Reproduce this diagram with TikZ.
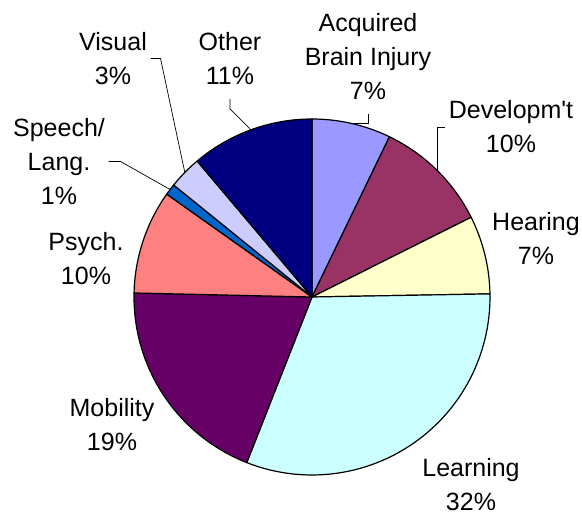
\documentclass[tikz,border=0pt]{standalone}
\usepackage{fontspec}
\setmainfont{Liberation Sans}
\definecolor{abicol}{HTML}{9999FF}
\definecolor{devcol}{HTML}{993366}
\definecolor{hearcol}{HTML}{FFFFCC}
\definecolor{learncol}{HTML}{CCFFFF}
\definecolor{mobcol}{HTML}{660066}
\definecolor{psychcol}{HTML}{FF8080}
\definecolor{speechcol}{HTML}{0066CC}
\definecolor{viscol}{HTML}{CCCCFF}
\definecolor{othercol}{HTML}{000080}
\begin{document}
\begin{tikzpicture}[x=1pt, y=1pt,
    slice/.style={draw=black, line width=1.2pt, line join=round},
    lbl/.style={align=center, inner sep=3.5pt, font=\fontsize{25}{34}\selectfont},
    hooklbl/.style={lbl, inner ysep=14pt},
    leader/.style={draw=black, line width=0.7pt}
  ]
    \useasboundingbox (0,0) rectangle (582,512);
    \coordinate (c) at (312,215);

    % slices, clockwise from the top
    \foreach \from/\to/\col in {90/64.2/abicol, 64.2/26.6/devcol, 26.6/1/hearcol,
        1/-111.5/learncol, -111.5/-181.3/mobcol, -181.3/-215.3/psychcol,
        -215.3/-219/speechcol, -219/-229.8/viscol, -229.8/-270/othercol}
      \draw[slice, fill=\col] (c) -- ([shift={(\from:178)}]c)
        arc[start angle=\from, end angle=\to, radius=178] -- cycle;

    % labels
    \node[hooklbl] (abi)    at (368,455)   {Acquired\\Brain Injury\\7\%};
    \node[lbl]     (dev)    at (511,385)   {Developm\textquotesingle t\\10\%};
    \node[lbl]     (hear)   at (536,273)   {Hearing\\7\%};
    \node[lbl]     (learn)  at (471,27)    {Learning\\32\%};
    \node[lbl]     (mob)    at (112,87)    {Mobility\\19\%};
    \node[lbl]     (psych)  at (86,253)    {Psych.\\10\%};
    \node[lbl]     (speech) at (59,350.5)  {Speech/\\Lang.\\1\%};
    \node[lbl]     (vis)    at (113,453.5) {Visual\\3\%};
    \node[hooklbl] (other)  at (230,453.5) {Other\\11\%};

    % leader ends on the rim
    \coordinate (abitip)    at ([shift={(77.1:178)}]c);
    \coordinate (devtip)    at ([shift={(45.4:178)}]c);
    \coordinate (othertip)  at ([shift={(110.1:178)}]c);
    \coordinate (vistip)    at ([shift={(135.6:178)}]c);
    \coordinate (speechtip) at ([shift={(142.85:178)}]c);

    \draw[leader] (abi.south) |- (abitip);
    \draw[leader] (dev.west) -| (devtip);
    \draw[leader] (other.south) -- ++(0,-10) -- (othertip);
    \draw[leader] (vis.east) -- ++(10,0) -- (vistip);
    \draw[leader] (speech.east) -- ++(12,0) -- (speechtip);
  \end{tikzpicture}
\end{document}
